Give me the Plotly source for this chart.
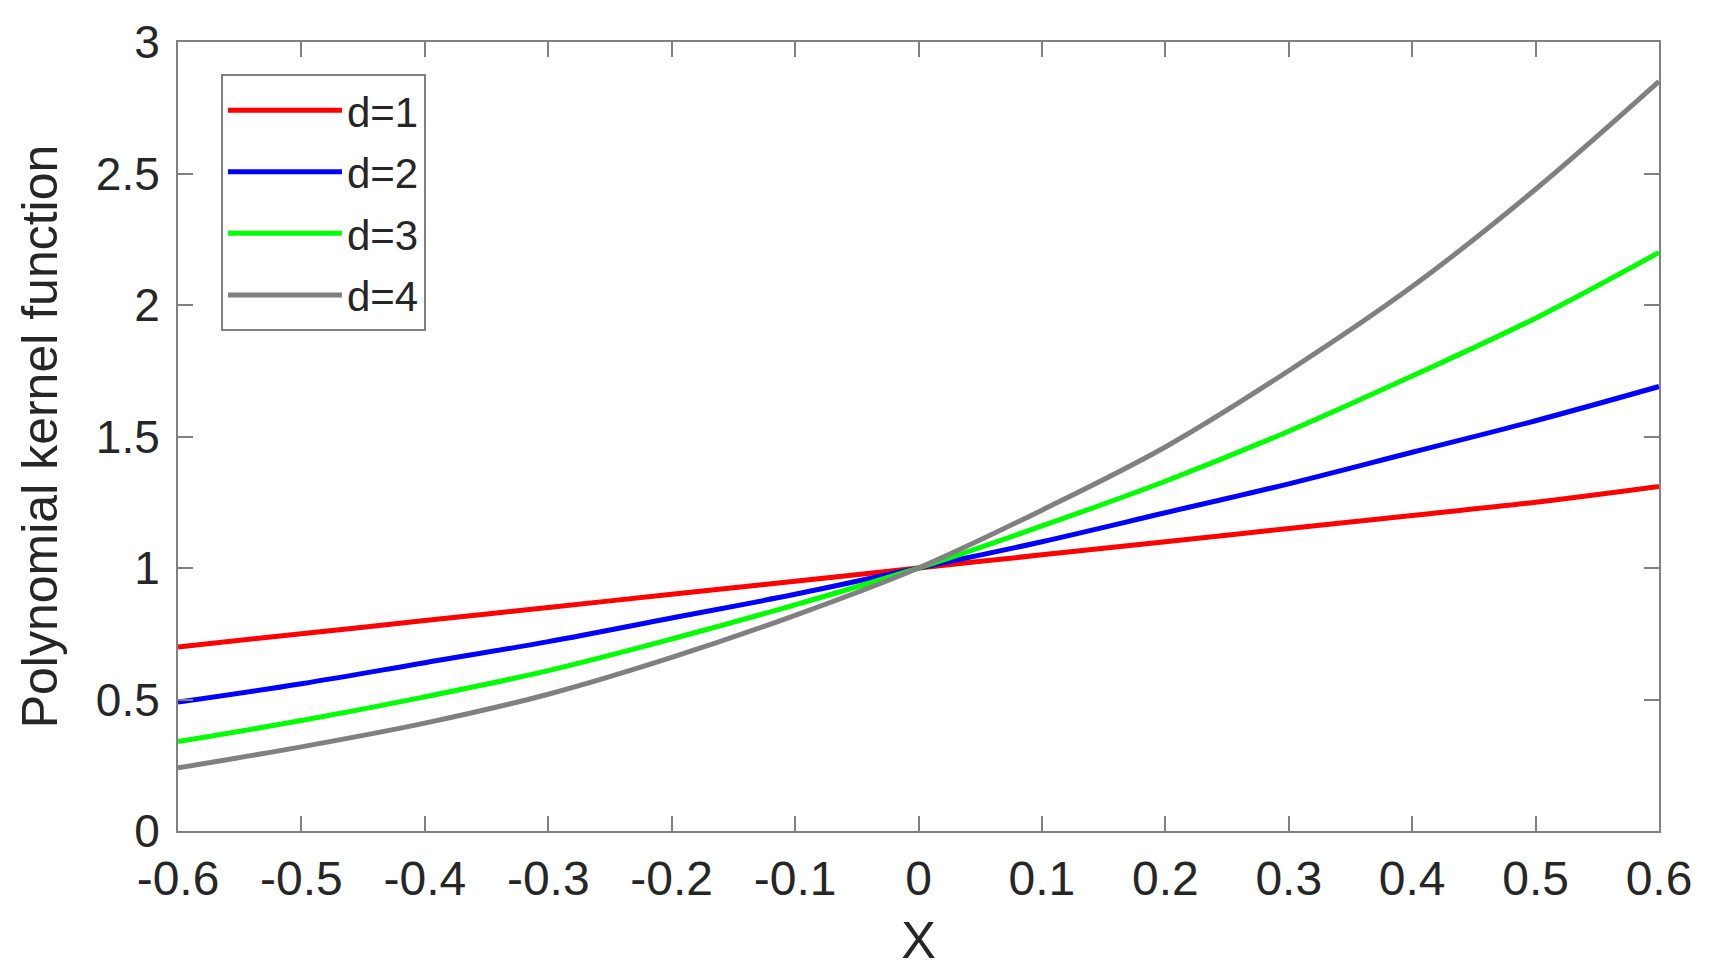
import plotly.graph_objects as go

# values at x = -0.6 ... 0.6
x_vals = [-0.6, -0.5, -0.4, -0.3, -0.2, -0.1, 0.0, 0.1, 0.2, 0.3, 0.4, 0.5, 0.6]
d1 = [0.70, 0.75, 0.80, 0.85, 0.90, 0.95, 1.00, 1.05, 1.10, 1.15, 1.20, 1.25, 1.31]
d2 = [0.49, 0.56, 0.64, 0.72, 0.81, 0.90, 1.00, 1.10, 1.21, 1.32, 1.44, 1.56, 1.69]
d3 = [0.34, 0.42, 0.51, 0.61, 0.73, 0.86, 1.00, 1.16, 1.33, 1.52, 1.73, 1.95, 2.20]
d4 = [0.24, 0.32, 0.41, 0.52, 0.66, 0.82, 1.00, 1.22, 1.46, 1.75, 2.07, 2.44, 2.85]

names = ["d=1", "d=2", "d=3", "d=4"]
colors = ["#ff0000", "#0000ff", "#00ff00", "#808080"]
x_ticks = [-0.6, -0.5, -0.4, -0.3, -0.2, -0.1, 0, 0.1, 0.2, 0.3, 0.4, 0.5, 0.6]
x_ticktext = ["-0.6", "-0.5", "-0.4", "-0.3", "-0.2", "-0.1", "0", "0.1", "0.2", "0.3", "0.4", "0.5", "0.6"]
y_ticks = [0, 0.5, 1, 1.5, 2, 2.5, 3]
y_ticktext = ["0", "0.5", "1", "1.5", "2", "2.5", "3"]

font = "Liberation Sans, Arial, sans-serif"
txt = "#262626"
axc = "#808080"

fig = go.Figure()
for name, ys, c in zip(names, [d1, d2, d3, d4], colors):
    fig.add_trace(go.Scatter(x=x_vals, y=ys, mode="lines", name=name, legendgroup=name,
                             line=dict(color=c, width=5, shape="spline")))

axis_common = dict(showgrid=False, zeroline=False, showline=True, linecolor=axc, linewidth=2,
                   mirror="allticks", ticks="inside", ticklen=15, tickwidth=2, tickcolor=axc,
                   automargin=False)

fig.update_xaxes(range=[-0.6, 0.6], tickvals=x_ticks, ticktext=x_ticktext,
                 tickfont=dict(family=font, size=48, color=txt), ticklabelstandoff=4,
                 title=dict(text="X", font=dict(family=font, size=52, color=txt), standoff=18),
                 **axis_common)
fig.update_yaxes(range=[0, 3], tickvals=y_ticks, ticktext=y_ticktext,
                 tickfont=dict(family=font, size=46, color=txt), ticklabelstandoff=7,
                 title=dict(text="Polynomial kernel function", font=dict(family=font, size=50, color=txt), standoff=22),
                 **axis_common)

# the page body adds an 8px offset, so the figure is 8px smaller and margins shifted
fig.update_layout(
    width=1703, height=971,
    margin=dict(l=170, r=52, t=34, b=148),
    paper_bgcolor="white", plot_bgcolor="white",
    legend=dict(x=0.029, y=0.959, xanchor="left", yanchor="top",
                bgcolor="white", bordercolor=axc, borderwidth=2,
                itemwidth=114, tracegroupgap=4,
                font=dict(family=font, size=42, color=txt)),
)

fig.write_html("out.html")
